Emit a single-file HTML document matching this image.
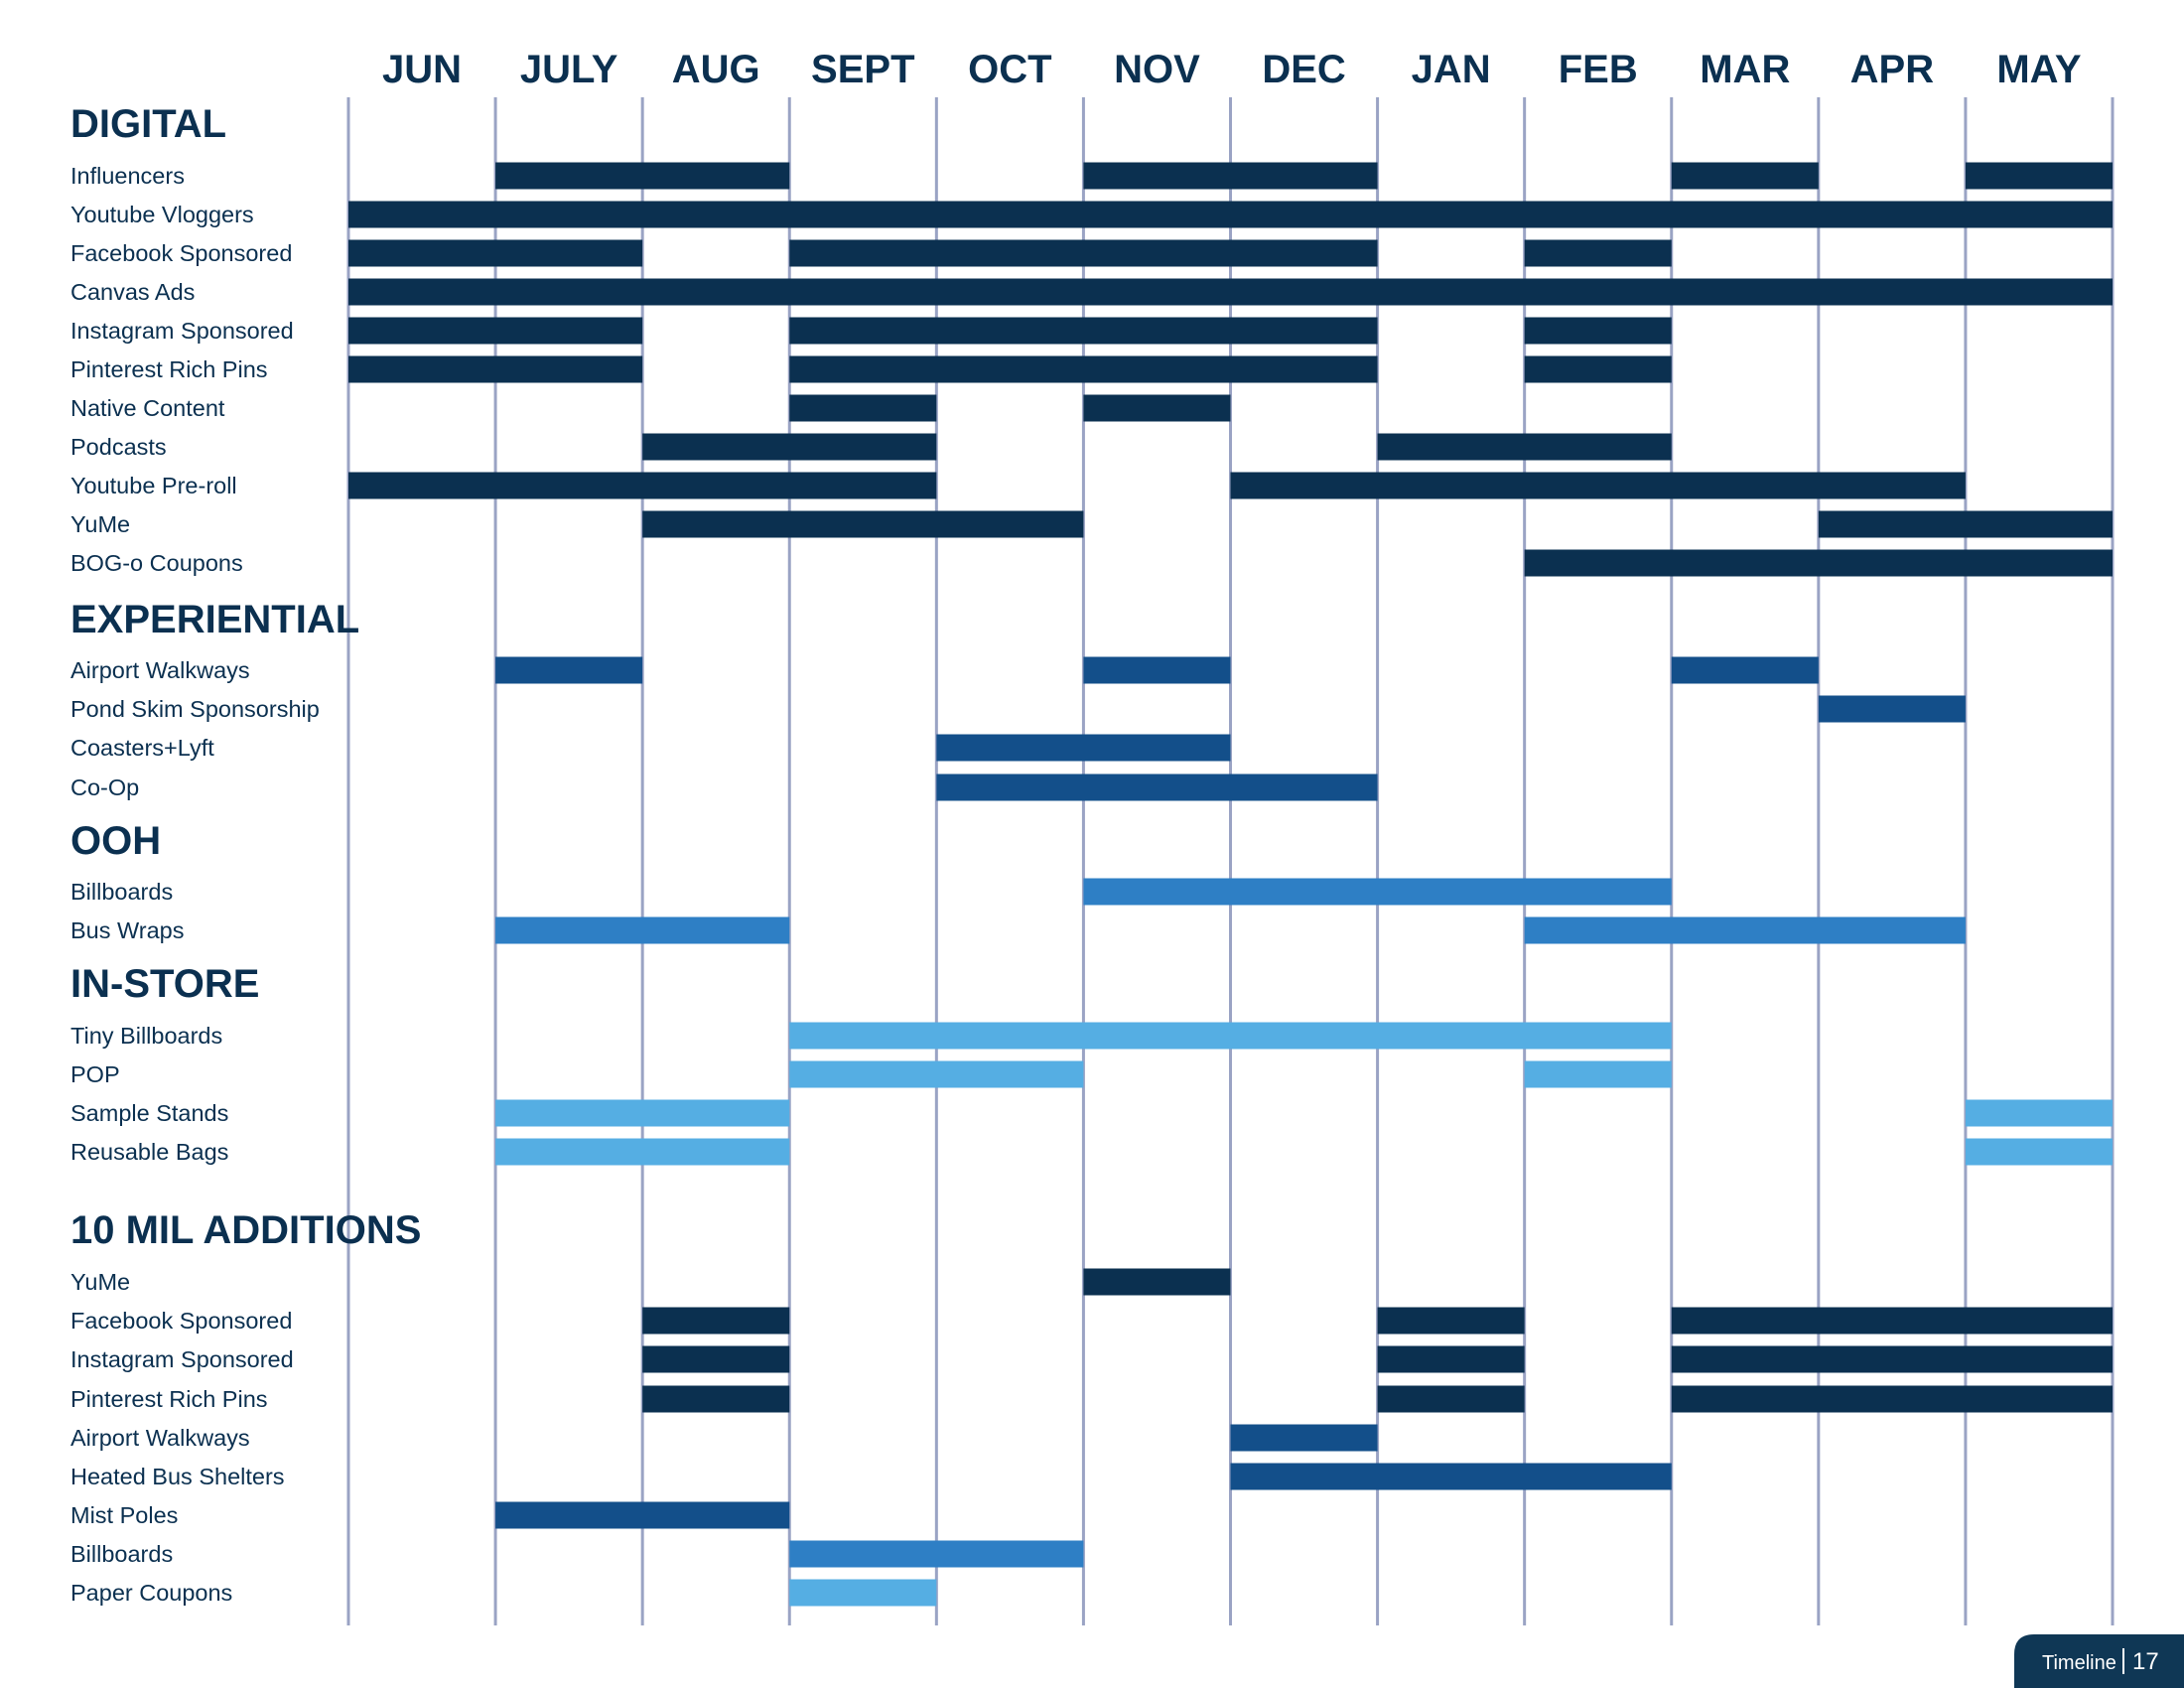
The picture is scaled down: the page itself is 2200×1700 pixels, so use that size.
<!DOCTYPE html>
<html><head><meta charset="utf-8"><style>
html,body{margin:0;padding:0;background:#fff;}
svg{display:block;}
.lbl{font-family:"Liberation Sans",sans-serif;font-size:23.5px;fill:#0b3050;}
.hdr{font-family:"Liberation Sans Narrow","Liberation Sans",sans-serif;font-weight:bold;font-size:40px;fill:#0b3050;}
</style></head>
<body>
<svg id="chart" width="2200" height="1700" viewBox="0 0 2200 1700" xmlns="http://www.w3.org/2000/svg">
<g id="grid"></g><g id="bars"></g><g id="labels"></g>
<g>
<path d="M2029,1700 V1666 Q2029,1646 2049,1646 H2200 V1700 Z" fill="#0f3755"/>
<text x="2057" y="1681" font-family="Liberation Sans Narrow,Liberation Sans,sans-serif" font-size="20" fill="#fff">Timeline</text>
<rect x="2138" y="1660" width="2" height="26" fill="#fff"/>
<text x="2148" y="1681" font-family="Liberation Sans Narrow,Liberation Sans,sans-serif" font-size="24" fill="#fff">17</text>
</g>
</svg>
<script>
const months = ["JUN","JULY","AUG","SEPT","OCT","NOV","DEC","JAN","FEB","MAR","APR","MAY"];
const sections = [
 {title:"DIGITAL", y:123},
 {title:"EXPERIENTIAL", y:622},
 {title:"OOH", y:845},
 {title:"IN-STORE", y:989},
 {title:"10 MIL ADDITIONS", y:1237}
];
const rowNames = ["Influencers","Youtube Vloggers","Facebook Sponsored","Canvas Ads","Instagram Sponsored","Pinterest Rich Pins","Native Content","Podcasts","Youtube Pre-roll","YuMe","BOG-o Coupons",
 "Airport Walkways","Pond Skim Sponsorship","Coasters+Lyft","Co-Op",
 "Billboards","Bus Wraps",
 "Tiny Billboards","POP","Sample Stands","Reusable Bags",
 "YuMe","Facebook Sponsored","Instagram Sponsored","Pinterest Rich Pins","Airport Walkways","Heated Bus Shelters","Mist Poles","Billboards","Paper Coupons"];
const rowY = [177,216,255,294,333,372,411,450,489,528,567, 675,714,753,793, 898,937, 1043,1082,1121,1160, 1291,1330,1369,1409,1448,1487,1526,1565,1604];
const rowColor = ["d","d","d","d","d","d","d","d","d","d","d","e","e","e","e","o","o","s","s","s","s","d","d","d","d","e","e","e","o","s"];
const rowSpans = [
 [[1,3],[5,7],[9,10],[11,12]],
 [[0,12]],
 [[0,2],[3,7],[8,9]],
 [[0,12]],
 [[0,2],[3,7],[8,9]],
 [[0,2],[3,7],[8,9]],
 [[3,4],[5,6]],
 [[2,4],[7,9]],
 [[0,4],[6,11]],
 [[2,5],[10,12]],
 [[8,12]],
 [[1,2],[5,6],[9,10]],
 [[10,11]],
 [[4,6]],
 [[4,7]],
 [[5,9]],
 [[1,3],[8,11]],
 [[3,9]],
 [[3,5],[8,9]],
 [[1,3],[11,12]],
 [[1,3],[11,12]],
 [[5,6]],
 [[2,3],[7,8],[9,12]],
 [[2,3],[7,8],[9,12]],
 [[2,3],[7,8],[9,12]],
 [[6,7]],
 [[6,9]],
 [[1,3]],
 [[3,5]],
 [[3,4]]
];
const palette = {d:"#0b3050",e:"#134f8a",o:"#2e7fc5",s:"#55aee3"};
const NS="http://www.w3.org/2000/svg";
const X0=351, X1=2128, GT=98, GB=1637, BH=27;
const xs = m => X0 + (X1-X0)*m/months.length;
const grid=document.getElementById('grid'), bars=document.getElementById('bars'), labels=document.getElementById('labels');
for(let i=0;i<=months.length;i++){
  const l=document.createElementNS(NS,'rect');
  l.setAttribute('x',xs(i)-1.5);l.setAttribute('y',GT);l.setAttribute('width',3);l.setAttribute('height',GB-GT);l.setAttribute('fill','#9aa3c4');
  
  
  grid.appendChild(l);
}
months.forEach((m,i)=>{
  const t=document.createElementNS(NS,'text');
  t.setAttribute('x',(xs(i)+xs(i+1))/2);t.setAttribute('y',83);t.setAttribute('text-anchor','middle');t.setAttribute('class','hdr');
  t.textContent=m;
  
  
  labels.appendChild(t);
});
sections.forEach(s=>{
  const t=document.createElementNS(NS,'text');
  t.setAttribute('x',71);t.setAttribute('y',s.y+15);t.setAttribute('class','hdr');
  t.textContent=s.title;
  
  
  labels.appendChild(t);
});
rowNames.forEach((n,i)=>{
  const t=document.createElementNS(NS,'text');
  t.setAttribute('x',71);t.setAttribute('y',rowY[i]+8);t.setAttribute('class','lbl');
  t.textContent=n;
  
  
  labels.appendChild(t);
  rowSpans[i].forEach(sp=>{
    const r=document.createElementNS(NS,'rect');
    r.setAttribute('x',xs(sp[0]));r.setAttribute('y',rowY[i]-BH/2);
    r.setAttribute('width',xs(sp[1])-xs(sp[0]));r.setAttribute('height',BH);
    r.setAttribute('fill',palette[rowColor[i]]);
    
    
    bars.appendChild(r);
  });
});
</script>
</body></html>
